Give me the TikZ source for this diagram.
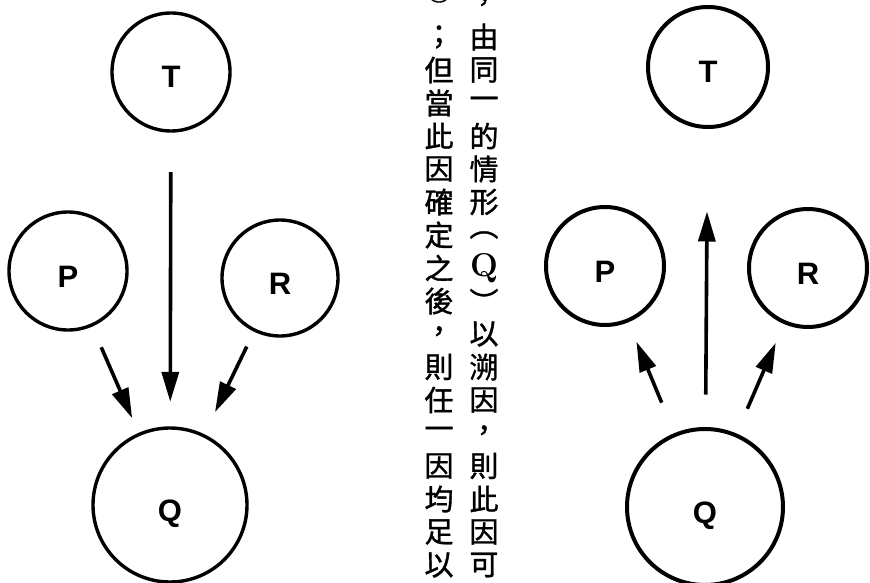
\documentclass[tikz,border=0pt]{standalone}
\usepackage{fontspec}
\newfontfamily\cjk{Noto Sans CJK TC}
\newfontfamily\labfont{Liberation Sans}
\usetikzlibrary{arrows.meta}
\tikzset{
  ball/.style={circle, draw, line width=3.4pt, inner sep=0pt,
    text height=32pt, text depth=0pt,
    font=\labfont\bfseries\fontsize{31}{31}\selectfont},
  arr/.style={line width=3.6pt, -{Triangle[length=30pt,width=17pt]}},
  zh/.style={inner sep=0pt, anchor=center,
    font=\cjk\addfontfeature{FakeBold=1.2}\fontsize{29}{29}\selectfont},
}
\begin{document}
\begin{tikzpicture}[x=1pt,y=-1pt]
\useasboundingbox (0,0) rectangle (870,583);
\fill[white] (0,0) rectangle (870,583);

% left diagram
\node[ball, minimum size=118pt] (T1) at (171,72) {T};
\node[ball, minimum size=118pt] (P1) at (68,271) {P};
\node[ball, minimum size=116pt] (R1) at (280,278) {R};
\node[ball, minimum size=154pt] (Q1) at (170,505) {Q};
\draw[arr, shorten <=39.5pt, shorten >=24.5pt] (T1) -- (Q1);
\draw[arr, shorten <=22.5pt, shorten >=16pt] (P1) -- (Q1);
\draw[arr, shorten <=16.5pt, shorten >=24.5pt] (R1) -- (Q1);

% right diagram
\node[ball, line width=4pt, minimum size=120pt] (T2) at (708,67) {T};
\node[ball, line width=4pt, minimum size=118pt] (P2) at (605,266) {P};
\node[ball, line width=4pt, minimum size=118pt] (R2) at (808,268) {R};
\node[ball, line width=4pt, minimum size=156pt] (Q2) at (705,507) {Q};
\draw[arr, shorten <=32.5pt, shorten >=82.5pt] (Q2) -- (T2);
\draw[arr, shorten <=33pt, shorten >=21pt] (Q2) -- (P2);
\draw[arr, shorten <=27pt, shorten >=20.5pt] (Q2) -- (R2);

% vertical Chinese text
\begin{scope}
\clip (0,0) rectangle (870,583);
\foreach \ch [count=\i from 0] in {，,由,同,一,的,情,形,︵,{\rmfamily\bfseries\fontsize{33}{33}\selectfont Q},︶,以,溯,因,，,則,此,因,可}
  \node[zh] (r\i) at (484,{4+33*\i}) {\ch};
\node[zh] (l0) at (439,-11) {①};
\foreach \ch [count=\i from 1] in {；,但,當,此,因,確,定,之,後,，,則,任,一,因,均,足,以}
  \node[zh] (l\i) at (439,{4+33*\i}) {\ch};
\end{scope}
\end{tikzpicture}
\end{document}
